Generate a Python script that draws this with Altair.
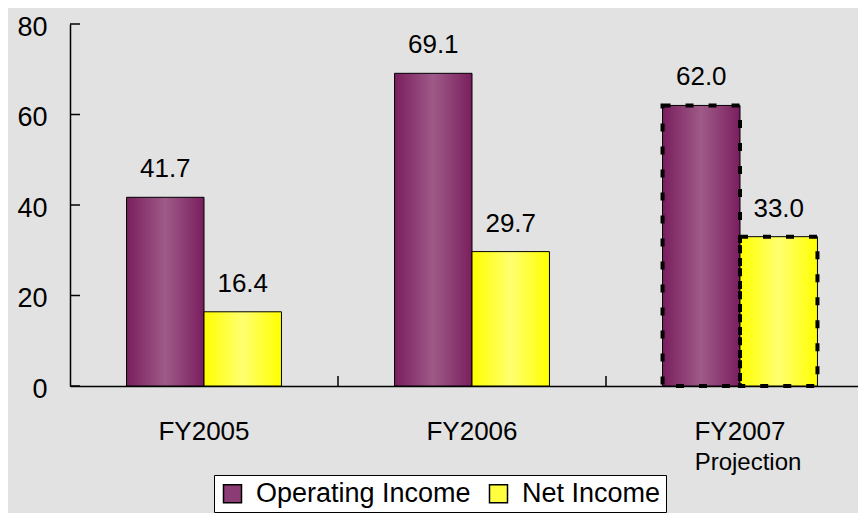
import altair as alt
import pandas as pd

years = ["FY2005", "FY2006", "FY2007"]
series = ["Operating Income", "Net Income"]
operating_income = [41.7, 69.1, 62.0]
net_income = [16.4, 29.7, 33.0]
y_ticks = [0, 20, 40, 60, 80]
projection_year = "FY2007"
projection_note = "Projection"

FONT = "Liberation Sans"

rows = []
for i, yr in enumerate(years):
    rows.append({"year": yr, "series": series[0], "value": operating_income[i]})
    rows.append({"year": yr, "series": series[1], "value": net_income[i]})
df = pd.DataFrame(rows)
ticks_df = pd.DataFrame({"value": y_ticks, "year": [years[0]] * len(y_ticks)})
xticks_df = pd.DataFrame({"year": years[1:], "value": [0] * (len(years) - 1)})
note_df = pd.DataFrame({"year": [projection_year], "note": [projection_note], "value": [0]})

x_scale = alt.Scale(domain=years, range=[0, 804], paddingInner=0, paddingOuter=0)
x_axis = alt.Axis(title=None, ticks=False, domainColor="black", domainWidth=1.5,
                  labelFontSize=26, labelColor="black", labelPadding=32, labelFont=FONT,
                  labelAngle=0)
x_enc = alt.X("year:N", scale=x_scale, axis=x_axis)
x_edge = alt.X("year:N", scale=x_scale, axis=x_axis, bandPosition=0)
xoff_enc = alt.XOffset("series:N", scale=alt.Scale(domain=series, paddingInner=0, paddingOuter=0.73))
y_scale = alt.Scale(domain=[0, 80], nice=False)
y_axis = alt.Axis(title=None, ticks=False, grid=False, domainColor="black", domainWidth=1.5,
                  values=y_ticks, labelFontSize=27, labelColor="black", labelPadding=23,
                  labelFont=FONT, labelOffset=3)
y_enc = alt.Y("value:Q", scale=y_scale, axis=y_axis)

purple_grad = alt.Gradient(
    gradient="linear", x1=0, x2=1, y1=0, y2=0,
    stops=[alt.GradientStop(offset=0, color="#7a1e5e"),
           alt.GradientStop(offset=0.5, color="#9e5a88"),
           alt.GradientStop(offset=1, color="#7a1e5e")],
)
yellow_grad = alt.Gradient(
    gradient="linear", x1=0, x2=1, y1=0, y2=0,
    stops=[alt.GradientStop(offset=0, color="#ffff00"),
           alt.GradientStop(offset=0.5, color="#ffff70"),
           alt.GradientStop(offset=1, color="#ffff00")],
)

base = alt.Chart(df)

purple = base.transform_filter(alt.datum.series == series[0]).mark_bar(
    fill=purple_grad, stroke="black", strokeWidth=1
).encode(x=x_enc, xOffset=xoff_enc, y=y_enc)

yellow = base.transform_filter(alt.datum.series == series[1]).mark_bar(
    fill=yellow_grad, stroke="black", strokeWidth=1
).encode(x=x_enc, xOffset=xoff_enc, y=y_enc)

dashed = base.transform_filter(alt.datum.year == projection_year).mark_bar(
    fillOpacity=0, stroke="black", strokeWidth=4, strokeDash=[8, 15]
).encode(x=x_enc, xOffset=xoff_enc, y=y_enc)

legend_layer = base.mark_bar(opacity=0).encode(
    x=x_enc, xOffset=xoff_enc, y=y_enc,
    color=alt.Color(
        "series:N",
        scale=alt.Scale(domain=series, range=["#8c3c74", "#ffff40"]),
        legend=alt.Legend(
            title=None, orient="none", legendX=144, legendY=451, direction="horizontal",
            fillColor="white", strokeColor="black", padding=5,
            symbolType="square", symbolSize=324, symbolStrokeColor="black",
            symbolStrokeWidth=1.5, symbolOpacity=1, labelFontSize=27, labelFont=FONT,
            labelColor="black", columnPadding=14, labelOffset=10, labelLimit=0,
        ),
    ),
)

labels = base.mark_text(baseline="bottom", dy=-15, fontSize=26, font=FONT, color="black").encode(
    x=x_enc, xOffset=xoff_enc, y=y_enc, text=alt.Text("value:Q", format=".1f")
)

ytick_rules = alt.Chart(ticks_df).mark_rule(color="black", strokeWidth=1.5).encode(
    y=y_enc, x=alt.value(0), x2=alt.value(10)
)

xtick_rules = alt.Chart(xticks_df).mark_rule(color="black", strokeWidth=1.5).encode(
    x=x_edge, y=alt.value(352), y2=alt.value(362),
)

note = alt.Chart(note_df).mark_text(fontSize=24, font=FONT, color="black", dx=8, baseline="middle").encode(
    x=x_enc, y=alt.value(439), text="note:N",
)

chart = alt.layer(
    legend_layer, purple, yellow, dashed, labels, ytick_rules, xtick_rules, note
).properties(
    width=788, height=362,
    autosize=alt.AutoSizeParams(type="none"),
    padding={"left": 62, "top": 16, "right": 0, "bottom": 127},
    background="#e2e2e2",
).configure_view(stroke=None)

chart.save("out.html", embed_options={"renderer": "svg", "actions": False})
